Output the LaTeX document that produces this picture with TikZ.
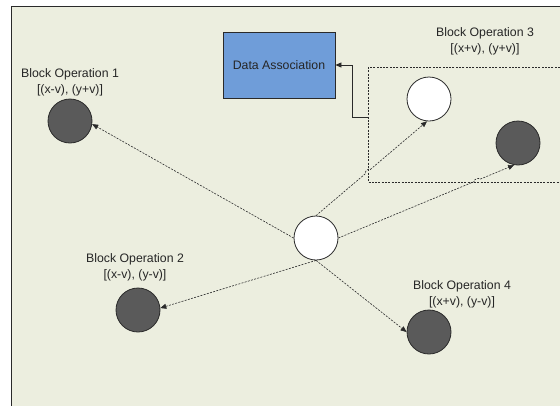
\documentclass[tikz,border=0pt]{standalone}
\usepackage{fontspec}
\setmainfont{Liberation Sans}
\usetikzlibrary{arrows.meta,calc}
\definecolor{bg}{HTML}{ECEEDF}
\definecolor{dk}{HTML}{5A5A5A}
\definecolor{bl}{HTML}{6F9DD9}
\definecolor{ln}{HTML}{2A2A2A}
\begin{document}
\begin{tikzpicture}[x=1pt,y=-1pt,
  tip/.style={-{Triangle[length=6pt,width=5pt]}},
  conn/.style={draw=ln, line width=0.6pt, dash pattern=on 2pt off 1.3pt, tip},
  darkc/.style={circle, draw=ln, line width=0.8pt, fill=dk, minimum size=44pt, inner sep=0pt},
  whitec/.style={circle, draw=ln, line width=0.8pt, fill=white, minimum size=44pt, inner sep=0pt},
  blk/.style={draw=ln, line width=0.8pt, fill=bl, inner sep=0pt, text=black!85},
  lab/.style={align=center, font=\fontsize{12.3}{16}\selectfont, text=black!85, inner sep=0pt},
  grp/.style={draw=ln, line width=0.6pt, dash pattern=on 2pt off 1.3pt}
]
\useasboundingbox (0,0) rectangle (560,405);
\begin{scope}
  \clip (0,0) rectangle (560,405);
  \fill[white] (0,0) rectangle (560,405);
  \draw[ln, fill=bg, line width=0.9pt] (11,6) rectangle (575,420);
  \draw[grp] (368,67) rectangle (580,182);
\end{scope}
\coordinate (g) at (368,117);

\node[blk, minimum width=112pt, minimum height=66pt, font=\fontsize{12.3}{16}\selectfont] (da) at (279,65) {Data Association};

\node[darkc] (b1) at (70,121) {};
\node[darkc] (b2) at (138,310) {};
\node[darkc] (b4) at (429,332) {};
\node[darkc] (d3) at (518,143) {};
\node[whitec] (w3) at (429,99) {};
\node[whitec] (c) at (316,238) {};

\node[lab] (l1) at (70,82) {Block Operation 1\\ {[}(x-v), (y+v)]};
\node[lab] (l2) at (135,267) {Block Operation 2\\ {[}(x-v), (y-v)]};
\node[lab] (l3) at (485,41) {Block Operation 3\\ {[}(x+v), (y+v)]};
\node[lab] (l4) at (462,294) {Block Operation 4\\ {[}(x+v), (y-v)]};

\draw[conn] (c.west) -- (b1.-8);
\draw[conn] (c.south) -- (b2.5);
\draw[conn] (c.south) -- (b4.west);
\draw[conn] (c.north) -- ($(c.north)!0.447!(w3.-95)$) to[bend left=90] ($(c.north)!0.489!(w3.-95)$) -- (w3.-95);
\draw[conn] (c.east) -- ($(c.east)!0.773!(d3.-100)$) to[bend left=90] ($(c.east)!0.805!(d3.-100)$) -- (d3.-100);

\draw[ln, line width=0.8pt, tip] (g) -- ++(-16,0) |- (da.east);
\end{tikzpicture}
\end{document}
